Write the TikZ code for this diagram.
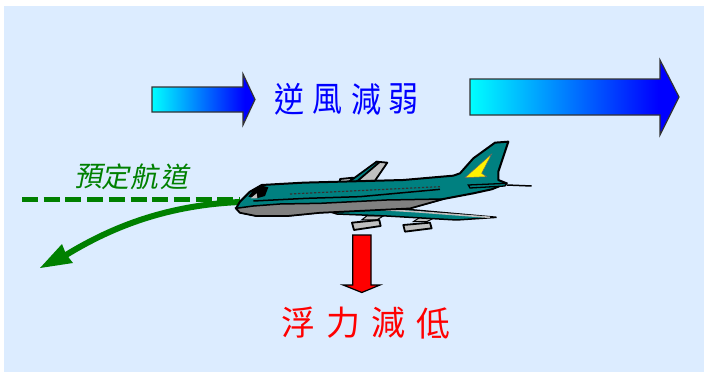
\documentclass[tikz,border=0pt]{standalone}
\usepackage{graphicx}
\usepackage{fontspec}
\newfontfamily\cjk{Noto Sans CJK TC}
\newfontfamily\cjkslant[FakeSlant=0.2]{Noto Sans CJK TC}
\usetikzlibrary{arrows.meta}
\definecolor{bgblue}{RGB}{220,236,255}
\definecolor{pathgreen}{RGB}{0,128,0}
\definecolor{planeteal}{RGB}{0,128,128}
\definecolor{planegrey}{RGB}{192,192,192}
\definecolor{beltgrey}{RGB}{128,128,128}
\pgfdeclarehorizontalshading{cyanblue}{100bp}{rgb(0bp)=(0,1,1);rgb(25bp)=(0,1,1);rgb(70bp)=(0,0,1);rgb(100bp)=(0,0,1)}
\tikzset{
  windarrow/.style={draw=black!80,line width=1.2pt,shading=cyanblue},
  liftarrow/.style={draw=black,line width=1.2pt,fill=red},
  cjktext/.style={font=\cjk\fontsize{#1}{#1}\selectfont,inner sep=0pt},
  cjkslanted/.style={font=\cjkslant\fontsize{#1}{#1}\selectfont,inner sep=0pt},
  planeline/.style={draw=black,line width=1.8pt,line join=round},
}
\begin{document}
\begin{tikzpicture}[x=1pt,y=-1pt]
\useasboundingbox (0,0) rectangle (704,372);
\fill[white] (0,0) rectangle (704,372);
\fill[bgblue] (4,6) rectangle (704,372);
% wind arrows
\path[windarrow] (152,87) -- (243,87) -- (243,74) -- (255,99.5) -- (243,125) -- (243,112) -- (152,112) -- cycle;
\path[windarrow] (470,79) -- (660,79) -- (660,60) -- (679,97) -- (660,135) -- (660,115) -- (470,115) -- cycle;
% texts
\foreach \c/\x [count=\i] in {逆/289,風/327,減/366,弱/403}
  \node[cjktext=30,text=blue] (wind\i) at (\x,99) {\scalebox{1}[1.15]{\c}};
\foreach \c/\x [count=\i] in {浮/298,力/343,減/388,低/433}
  \node[cjktext=34,text=red] (lift\i) at (\x,323) {\c};
\foreach \c/\x [count=\i] in {預/88,定/115,航/144,道/174}
  \node[cjkslanted=28,text=pathgreen] (plan\i) at (\x,177) {\c};
% flight paths
\coordinate (pathstart) at (22,199.5);
\coordinate (planenose) at (240,199.5);
\coordinate (curvestart) at (240,202);
\coordinate (curveend) at (66,255);
\draw[pathgreen,line width=5.5pt,dash pattern=on 16pt off 5.7pt] (pathstart) -- (planenose);
\draw[pathgreen,line width=6pt] (curvestart) .. controls (170,205) and (115,225) .. (curveend);
\fill[pathgreen] (40,268) -- (62,244) -- (66,254) -- (73,263) -- cycle;
% aeroplane, coordinates taken from a 3x crop
\begin{scope}[shift={(220,130)},x=0.3333pt,y=-0.3333pt]
  % far wing
  \path[planeline,fill=planegrey] (360,147) -- (400,143) -- (385,158) -- (360,158) -- cycle;
  \path[planeline,fill=planegrey] (410,155) -- (470,95) -- (502,98) -- (465,152) -- cycle;
  \path[planeline,fill=planeteal] (385,157) -- (470,95) -- (478,97) -- (410,155) -- cycle;
  % engines
  \path[draw=black,line width=1pt,fill=planegrey] (425,270) -- (440,258) -- (490,258) -- (470,270) -- cycle;
  \path[draw=black,line width=1pt,fill=planegrey] (580,275) -- (600,262) -- (640,265) -- (620,275) -- cycle;
  \path[planeline,fill=planegrey] (396,278) -- (478,270) -- (482,288) -- (402,300) -- cycle;
  \path[planeline,fill=planegrey] (550,285) -- (630,278) -- (635,295) -- (555,305) -- cycle;
  % near wing
  \path[draw=black,line width=1.5pt,fill=planeteal] (300,235) -- (560,238) -- (830,262) -- (710,270) -- (500,258) -- (350,252) -- cycle;
  \path[draw=planegrey,line width=1.6pt] (380,232) -- (600,246) -- (810,262);
  % tail plane tip
  \draw[black,line width=1.5pt] (860,165) -- (935,168);
  % fuselage
  \path[planeline,line width=2pt,fill=planeteal] (48,235) -- (60,215) -- (90,185) -- (125,165) -- (250,158) -- (550,150) -- (700,137) -- (720,130) -- (760,85) -- (825,38) -- (865,35) -- (835,125) -- (835,150) -- (860,160) -- (815,178) -- (760,190) -- (670,207) -- (570,235) -- (300,248) -- (200,258) -- (110,258) -- (60,248) -- cycle;
  % belly
  \path[draw=black,line width=1.5pt,fill=beltgrey] (48,235) -- (100,228) -- (180,222) -- (300,220) -- (500,210) -- (670,207) -- (570,235) -- (300,248) -- (200,258) -- (110,258) -- (60,248) -- cycle;
  \draw[black,line width=1.5pt] (100,213) -- (260,205) -- (420,200) -- (660,178);
  % cockpit
  \fill[black] (85,200) -- (100,180) -- (125,167) -- (145,172) -- (135,198) -- (110,205) -- cycle;
  \fill[planegrey] (92,205) -- (110,190) -- (112,205) -- cycle;
  % windows
  \draw[black!80,line width=1.2pt,dash pattern=on 2.4pt off 1.6pt] (210,192) -- (660,170);
  % fin flash
  \path[draw=black!60,line width=.5pt,fill=yellow] (735,143) -- (815,72) -- (785,130) -- (800,140) -- cycle;
  % tailplane
  \path[draw=black,line width=1.3pt,fill=planeteal] (745,165) -- (860,160) -- (855,168) -- (750,174) -- cycle;
\end{scope}
% lift arrow
\path[liftarrow] (352.7,235) -- (371,235) -- (371,285) -- (380,285) -- (361.8,292.5) -- (343,285) -- (352.7,285) -- cycle;
\end{tikzpicture}
\end{document}
